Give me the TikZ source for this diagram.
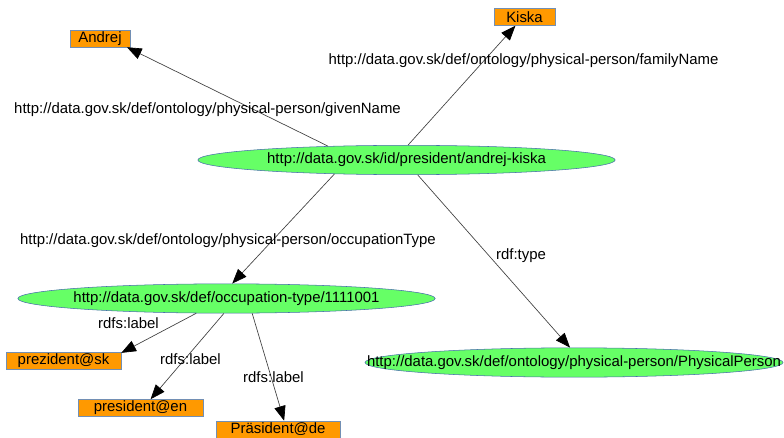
\documentclass[tikz,border=0pt]{standalone}
\usepackage{fontspec}
\setmainfont{Liberation Sans}
\usepackage{tikz}
\usetikzlibrary{shapes.geometric,arrows.meta}

\definecolor{litorange}{RGB}{255,153,0}
\definecolor{litborder}{RGB}{114,143,180}
\definecolor{resgreen}{RGB}{102,255,102}
\definecolor{resborder}{RGB}{70,110,170}

\begin{document}
\begin{tikzpicture}[x=0.75pt,y=-0.75pt,font=\fontsize{11.2pt}{13pt}\selectfont]
    % --- DEFINE STYLES ---
    % Style for literal values
    \tikzstyle{literal} = [rectangle, draw=litborder, fill=litorange, inner sep=0pt, minimum height=12.75pt]
    % Style for resources
    \tikzstyle{resource} = [ellipse, draw=resborder, fill=resgreen, inner sep=0pt, minimum width=313pt, minimum height=22pt]
    % Style for triples
    \tikzstyle{triple} = [draw=black!75, line width=0.5pt, -{Triangle[length=11pt,width=8.5pt,black]}]

    \useasboundingbox (0,0) rectangle (784,438);

    % --- RESOURCES ---
    \node[resource] (kiska_uri) at (406.5,160) {\makebox[0pt]{http://data.gov.sk/id/president/andrej-kiska}};
    \node[resource] (occ_uri) at (226.5,298.5) {\makebox[0pt]{http://data.gov.sk/def/occupation-type/1111001}};
    \node[resource, minimum width=313.5pt] (person_cls) at (574,362.5) {\makebox[0pt]{http://data.gov.sk/def/ontology/physical-person/PhysicalPerson}};

    % --- LITERALS ---
    \node[literal, minimum width=45pt] (given) at (100,38.5) {Andrej};
    \node[literal, minimum width=45.75pt] (family) at (524.5,17) {Kiska};
    \node[literal, minimum width=86.25pt] (lab_sk) at (63.5,361) {prezident@sk};
    \node[literal, minimum width=93.75pt] (lab_en) at (140.5,408) {president@en};
    \node[literal, minimum width=93pt] (lab_de) at (278,429.5) {Präsident@de};

    % --- TRIPLES ---
    \draw[triple] (kiska_uri.170) -- (given.-18);
    \draw[triple] (kiska_uri.84) -- (family.224);
    \draw[triple] (kiska_uri.191) -- (occ_uri.69);
    \draw[triple] (kiska_uri.307) -- (person_cls.105);
    \draw[triple] (occ_uri.206) -- (lab_sk.8);
    \draw[triple] (occ_uri.260) -- (lab_en.41);
    \draw[triple] (occ_uri.330) -- (lab_de.55);

    % Predicate labels
    \node (p_given) at (207.5,110) {http://data.gov.sk/def/ontology/physical-person/givenName};
    \node (p_family) at (523.5,61) {http://data.gov.sk/def/ontology/physical-person/familyName};
    \node (p_occ) at (228,241) {http://data.gov.sk/def/ontology/physical-person/occupationType};
    \node (p_type) at (521,256) {rdf:type};
    \node (p_sk) at (128.5,323) {rdfs:label};
    \node (p_en) at (190.5,359) {rdfs:label};
    \node (p_de) at (273.5,377) {rdfs:label};
\end{tikzpicture}
\end{document}
